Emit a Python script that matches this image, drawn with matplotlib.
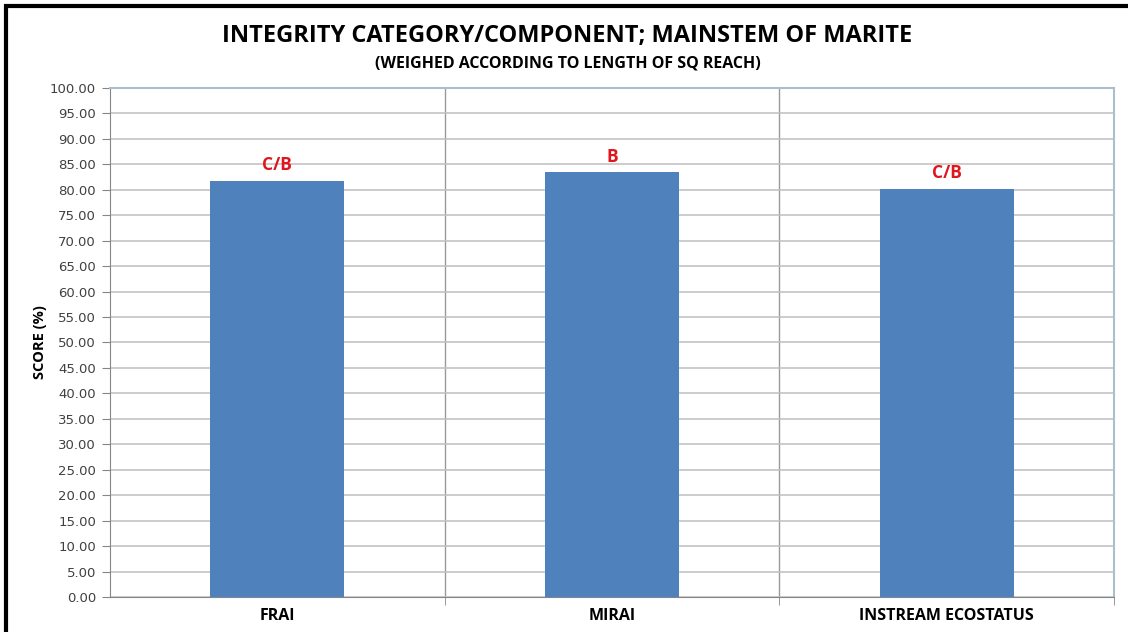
import matplotlib.pyplot as plt
import matplotlib.patches as patches
import numpy as np

categories = ["FRAI", "MIRAI", "INSTREAM ECOSTATUS"]
scores = [81.7, 83.4, 80.1]
classes = ["C/B", "B", "C/B"]

fig = plt.figure(figsize=(11.28, 6.32), dpi=100)
ax = fig.add_axes([0.0975, 0.0554, 0.8901, 0.8054])

x = np.arange(len(categories))
ax.bar(x, scores, width=0.4, color="#4F81BD", zorder=3)

for xi, s, c in zip(x, scores, classes):
    ax.annotate(c, (xi, s), xytext=(0, 5), textcoords="offset points",
                ha="center", va="bottom", color="#E0161E", fontsize=12.5,
                fontweight="bold", family="Open Sans")

ax.set_xlim(-0.5, 2.5)
ax.set_ylim(0, 100)
ax.set_yticks(np.arange(0, 101, 5))
ax.set_yticklabels([f"{v:.2f}" for v in np.arange(0, 101, 5)],
                   fontsize=9.5, color="#404040", family="DejaVu Sans")
ax.set_xticks(x)
ax.set_xticklabels(categories, fontsize=11.5, fontweight="bold", family="Open Sans")
ax.tick_params(axis="x", length=0, pad=8)
ax.set_xticks([0.5, 1.5, 2.5], minor=True)
ax.tick_params(axis="x", which="minor", length=6, color="#868686")
ax.tick_params(axis="y", length=6, color="#868686", pad=4)

ax.grid(axis="y", color="#BFBFBF", linewidth=1.1, zorder=0)
ax.grid(axis="x", which="minor", color="#9A9A9A", linewidth=1.0, zorder=0)

for side in ["left", "bottom"]:
    ax.spines[side].set_color("#868686")
for side in ["top", "right"]:
    ax.spines[side].set_color("#A9BFD0")
    ax.spines[side].set_linewidth(1.5)

ax.set_ylabel("SCORE (%)", fontsize=10.5, fontweight="bold", family="Open Sans", labelpad=2)

fig.text(0.503, 0.943, "INTEGRITY CATEGORY/COMPONENT; MAINSTEM OF MARITE",
         ha="center", va="center", fontsize=17, fontweight="bold", family="Open Sans")
fig.text(0.503, 0.900, "(WEIGHED ACCORDING TO LENGTH OF SQ REACH)",
         ha="center", va="center", fontsize=11.5, fontweight="bold", family="Open Sans")

# outer frame of the chart
fig.patches.append(patches.Rectangle((5.5 / 1128, -0.05), 1.2, 1.05 - 5.5 / 632,
                                     transform=fig.transFigure, fill=False,
                                     edgecolor="black", linewidth=3))

fig.savefig("out.png", dpi=100)
